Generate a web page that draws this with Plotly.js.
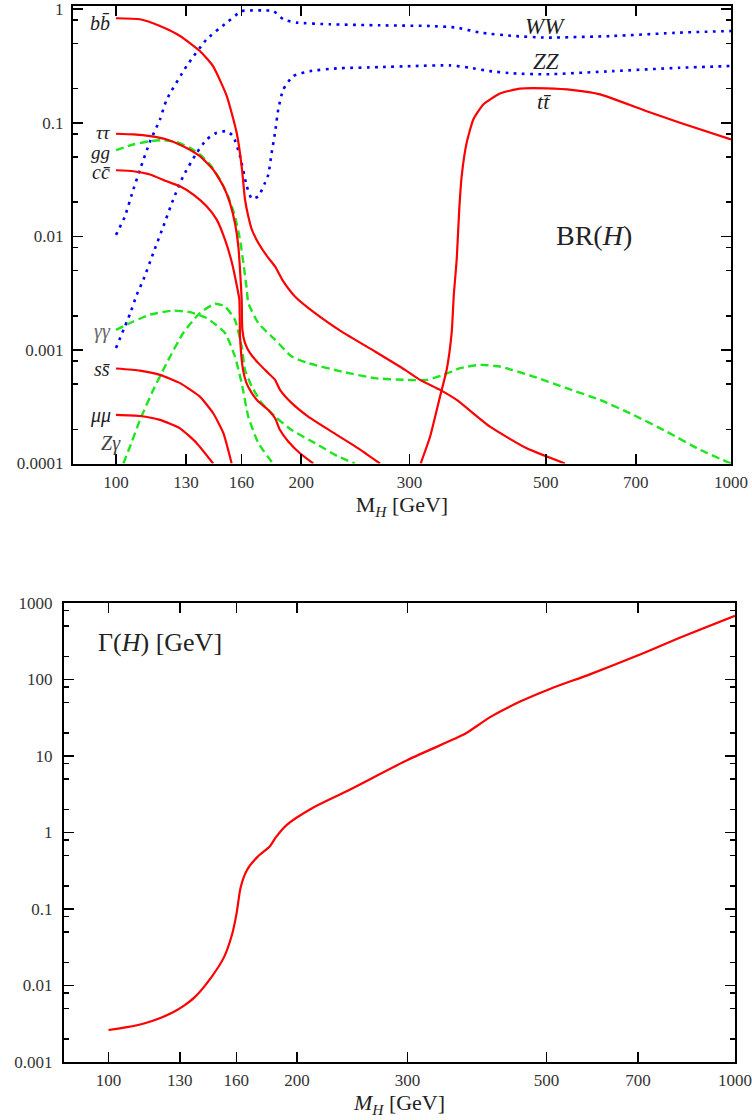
<!DOCTYPE html>
<html>
<head>
<meta charset="utf-8">
<script src="https://cdn.plot.ly/plotly-3.0.1.min.js"></script>
<style>
html,body{margin:0;padding:0;background:#fff;}
#plot{width:752px;height:1120px;}
</style>
</head>
<body>
<div id="plot"></div>
<script>
// ---------- Data: Higgs branching ratios BR(H) vs M_H [GeV] ----------
const M_bb  = [100, 109.4, 117.9, 127.1, 136.9, 143.8, 151.4, 157.1, 160.1, 162.1, 164.1, 166.3, 170.4, 176.9, 181.4, 187.1, 195.4, 210.7, 232.8, 263.7, 295.1, 312.1, 336.4, 358.1, 405.6, 465.5, 537];
const BR_bb = [0.832, 0.815, 0.711, 0.581, 0.428, 0.315, 0.172, 0.082, 0.0412, 0.0211, 0.0150, 0.01145, 0.00875, 0.00645, 0.00544, 0.00401, 0.00296, 0.00211, 0.00145, 0.000969, 0.000668, 0.000545, 0.000445, 0.000363, 0.000211, 0.000136, 0.0001];

const M_tautau  = [100, 106.7, 113.6, 120.9, 128.6, 136.9, 143.9, 149.5, 153.2, 156.1, 158.1, 159.1, 160.1, 160.5, 162.1, 165.2, 170.4, 176.9, 181.4, 184.8, 193.1, 205.4, 224.2, 247.7, 268.7];
const BR_tautau = [0.080, 0.0789, 0.0762, 0.0713, 0.0622, 0.0508, 0.0387, 0.0276, 0.0197, 0.01313, 0.00816, 0.00509, 0.00277, 0.0015, 0.00115, 0.000937, 0.000765, 0.000624, 0.000545, 0.000445, 0.00034, 0.000259, 0.000191, 0.000136, 0.0001];

const M_cc  = [100, 106.7, 113.6, 120.9, 127.1, 133.6, 140.4, 145.8, 150.4, 154.2, 157.1, 158.7, 159.1, 160.9, 163, 166.3, 170.4, 176.9, 181.4, 184.8, 190.6, 199.1, 209.3];
const BR_cc = [0.0382, 0.0374, 0.035, 0.0305, 0.0276, 0.0233, 0.0184, 0.01403, 0.00935, 0.00598, 0.00375, 0.00277, 0.00131, 0.000668, 0.00051, 0.000416, 0.000351, 0.000296, 0.00025, 0.000197, 0.000156, 0.000123, 0.0001];

const M_ss  = [100, 109.4, 117.9, 127.1, 136.9, 143.9, 149.5, 154.2];
const BR_ss = [0.000686, 0.000658, 0.000603, 0.00051, 0.000388, 0.000277, 0.000185, 0.0001];

const M_mumu  = [100, 109.4, 117.9, 127.1, 135.3, 143.9];
const BR_mumu = [0.000268, 0.000262, 0.000242, 0.000204, 0.000151, 0.0001];

const M_tt  = [312.9, 324.1, 336.4, 344.9, 351.4, 354.4, 358.1, 361.5, 364.8, 371.7, 381.1, 395.6, 421.1, 453.9, 501.6, 554.1, 612.4, 729.5, 826.1, 1000];
const BR_tt = [0.0001, 0.000172, 0.000388, 0.000668, 0.00141, 0.00317, 0.00623, 0.0172, 0.0338, 0.0666, 0.107, 0.145, 0.181, 0.1995, 0.2007, 0.194, 0.178, 0.1265, 0.1, 0.0713];

const M_gg  = [100, 106.7, 113.6, 119.4, 125.5, 131.9, 136.9, 142.2, 147.6, 152.2, 156.1, 159.1, 161.1, 163.2, 164.1, 170.4, 181.4, 193.1, 205.4, 232.8, 263.7, 295.1, 320.1, 340.6, 362.5, 390.7, 421.1, 477.1, 540.4, 612.4, 693.6, 785.9, 890.6, 1000];
const BR_gg = [0.0573, 0.0644, 0.0688, 0.0703, 0.0675, 0.0602, 0.0525, 0.0429, 0.0316, 0.0225, 0.0150, 0.00935, 0.00583, 0.00339, 0.00259, 0.00172, 0.00123, 0.000874, 0.000765, 0.000645, 0.000564, 0.000545, 0.000545, 0.000603, 0.000691, 0.000739, 0.000714, 0.000583, 0.00046, 0.000363, 0.000268, 0.000191, 0.000132, 0.0001];

const M_gamgam  = [100, 106.7, 113.6, 123.9, 131.9, 140.4, 150.4, 156.1, 160.1, 164.1, 170.4, 180];
const BR_gamgam = [0.0015, 0.00178, 0.00204, 0.00222, 0.00215, 0.00191, 0.00141, 0.000874, 0.00051, 0.000259, 0.000151, 0.0001];

const M_Zgam  = [102.8, 105.4, 109.4, 115.0, 120.9, 128.6, 136.9, 144.9, 150.4, 156.1, 160.1, 162.1, 166.3, 172.6, 181.4, 193.1, 210.7, 229.9, 244.7];
const BR_Zgam = [0.0001, 0.000141, 0.000242, 0.000445, 0.000765, 0.00141, 0.00211, 0.00255, 0.00241, 0.00184, 0.00107, 0.000668, 0.000476, 0.00034, 0.000259, 0.000197, 0.000151, 0.000115, 0.0001];

const M_WW  = [100, 103.4, 106.7, 109.4, 113.6, 117.9, 120.9, 130.3, 140.4, 151.4, 160.1, 165.2, 173.6, 180.3, 187.1, 196.7, 222.8, 268.7, 324.1, 358.1, 390.7, 442.6, 501.6, 643.7, 826.1, 1000];
const BR_WW = [0.0103, 0.015, 0.0258, 0.0387, 0.0684, 0.107, 0.16, 0.316, 0.543, 0.762, 0.964, 0.975, 0.975, 0.964, 0.814, 0.762, 0.736, 0.721, 0.711, 0.688, 0.622, 0.581, 0.562, 0.581, 0.622, 0.642];

const M_ZZ  = [100, 105.4, 108.1, 110.8, 115.0, 119.4, 123.9, 128.6, 135.3, 140.4, 145.8, 151.4, 155.1, 159.1, 163.2, 166.3, 170.4, 174.7, 176.9, 179.1, 181.4, 183.6, 187.1, 194.2, 206.7, 228.5, 268.7, 304.4, 349.2, 376.3, 405.6, 442.6, 501.6, 643.7, 826.1, 1000];
const BR_ZZ = [0.00104, 0.00208, 0.00306, 0.00415, 0.00714, 0.01225, 0.0211, 0.0338, 0.0544, 0.0713, 0.0817, 0.0843, 0.0762, 0.0508, 0.0276, 0.0214, 0.0225, 0.0296, 0.035, 0.0544, 0.0817, 0.131, 0.197, 0.258, 0.285, 0.301, 0.309, 0.316, 0.32, 0.305, 0.285, 0.272, 0.267, 0.285, 0.305, 0.316];

// ---------- Data: total width Gamma(H) [GeV] ----------
const M_width = [100, 107, 114.3, 121, 127.2, 132, 137.3, 146.0, 152.9, 157.6, 160.1, 162.6, 166.3, 172.9, 181.0, 185.2, 192.4, 211, 242.2, 300.2, 355.3, 372, 407.9, 454, 505.4, 589.3, 697.3, 825.6, 1000];
const Gamma_H = [0.00262, 0.00285, 0.00321, 0.00375, 0.00453, 0.00545, 0.00704, 0.0129, 0.0235, 0.0475, 0.087, 0.194, 0.321, 0.48, 0.662, 0.877, 1.25, 2.06, 3.59, 8.87, 16.5, 19.8, 32.7, 51.5, 74.7, 118.5, 204, 365, 682];

// ---------- Tick labels ----------
const xTickVals = [100, 130, 160, 200, 300, 500, 700, 1000];
const xTickText = ['100', '130', '160', '200', '300', '500', '700', '1000'];
const yTopTickVals = [0.0001, 0.001, 0.01, 0.1, 1];
const yTopTickText = ['0.0001', '0.001', '0.01', '0.1', '1'];
const yBotTickVals = [0.001, 0.01, 0.1, 1, 10, 100, 1000];
const yBotTickText = ['0.001', '0.01', '0.1', '1', '10', '100', '1000'];
const minorMult = [2, 5, 8];

// ---------- Styles ----------
const FONT = 'Liberation Serif';
const RED = '#ff0000', GREEN = '#1ee61e', BLUE = '#0000ff';
const solid = {color: RED, width: 2.2, shape: 'spline', smoothing: 0.5};
const solidW = {color: RED, width: 2.2, shape: 'spline', smoothing: 0.8};
const dashed = {color: GREEN, width: 2.4, dash: '8px,4.5px', shape: 'spline', smoothing: 0.5};
const dotted = {color: BLUE, width: 2.6, dash: '2.8px,5.4px', shape: 'spline', smoothing: 0.5};

function tr(x, y, line, xa, ya) {
  return {x: x, y: y, type: 'scatter', mode: 'lines', line: line,
          xaxis: xa || 'x', yaxis: ya || 'y', hoverinfo: 'skip'};
}

const data = [
  tr(M_WW, BR_WW, dotted),
  tr(M_ZZ, BR_ZZ, dotted),
  tr(M_gg, BR_gg, dashed),
  tr(M_gamgam, BR_gamgam, dashed),
  tr(M_Zgam, BR_Zgam, dashed),
  tr(M_bb, BR_bb, solid),
  tr(M_tautau, BR_tautau, solid),
  tr(M_cc, BR_cc, solid),
  tr(M_ss, BR_ss, solid),
  tr(M_mumu, BR_mumu, solid),
  tr(M_tt, BR_tt, solid),
  tr(M_width, Gamma_H, solidW, 'x2', 'y2')
];

function minorVals(lo, hi) {
  const out = [];
  for (let e = lo; e < hi; e++) minorMult.forEach(m => out.push(m * Math.pow(10, e)));
  return out;
}

const axisCommon = {
  type: 'log', showgrid: false, zeroline: false, showline: true,
  linecolor: '#000', linewidth: 2, mirror: 'ticks',
  ticks: 'inside', ticklen: 10, tickwidth: 1.6, tickcolor: '#000',
  tickfont: {family: FONT, size: 17, color: '#333'}, automargin: false
};

const L = (v) => Math.log10(v);
function lab(text, M, v, xanchor, size, xa, ya, color) {
  return {x: L(M), y: L(v), xref: xa || 'x', yref: ya || 'y', text: text, showarrow: false,
          xanchor: xanchor || 'center', yanchor: 'middle',
          font: {family: FONT, size: size || 20, color: color || '#222'}};
}

const layout = {
  width: 752, height: 1120,
  margin: {l: 0, r: 0, t: 0, b: 0},
  paper_bgcolor: '#fff', plot_bgcolor: '#fff',
  showlegend: false,
  font: {family: FONT, color: '#222'},
  xaxis: Object.assign({}, axisCommon, {
    domain: [0.09707, 0.97207], range: [1.9301, 3], anchor: 'y',
    tickvals: xTickVals, ticktext: xTickText, ticklabelstandoff: 2,
    title: {text: 'M<sub><i>H</i></sub> [GeV]', font: {family: FONT, size: 22, color: '#222'}, standoff: 3}
  }),
  yaxis: Object.assign({}, axisCommon, {
    domain: [0.58616, 0.99464], range: [-4, 0.028], anchor: 'x',
    tickvals: yTopTickVals, ticktext: yTopTickText, ticklabelstandoff: 4,
    minor: {tickvals: minorVals(-4, 0), ticks: 'inside', ticklen: 5, tickwidth: 1.6, tickcolor: '#000', showgrid: false}
  }),
  xaxis2: Object.assign({}, axisCommon, {
    domain: [0.08511, 0.97739], range: [1.929, 3], anchor: 'y2',
    tickvals: xTickVals, ticktext: xTickText, ticklabelstandoff: 2,
    title: {text: '<i>M</i><sub><i>H</i></sub> [GeV]', font: {family: FONT, size: 22, color: '#222'}, standoff: 3}
  }),
  yaxis2: Object.assign({}, axisCommon, {
    domain: [0.05179, 0.46161], range: [-3, 3], anchor: 'x2',
    tickvals: yBotTickVals, ticktext: yBotTickText, ticklabelstandoff: 6,
    minor: {tickvals: minorVals(-3, 3), ticks: 'inside', ticklen: 5, tickwidth: 1.6, tickcolor: '#000', showgrid: false}
  }),
  annotations: [
    lab('<i>b</i><i>b\u0304</i>', 98.6, 0.751, 'right'),
    lab('<i>ττ</i>', 99.0, 0.0821, 'right', 19),
    lab('<i>gg</i>', 98.6, 0.0547, 'right', 19),
    lab('<i>c</i><i>c\u0304</i>', 98.6, 0.0372, 'right'),
    lab('<i>γγ</i>', 99.0, 0.00144, 'right', 20, 'x', 'y', '#666'),
    lab('<i>s</i><i>s\u0304</i>', 98.6, 0.00068, 'right'),
    lab('<i>μμ</i>', 99.0, 0.000262, 'right'),
    lab('<i>Z</i><i>γ</i>', 102.6, 0.000149, 'right', 20, 'x', 'y', '#444'),
    lab('<i>WW</i>', 498, 0.70, 'center', 23),
    lab('<i>ZZ</i>', 500, 0.347, 'center', 23),
    lab('<i>t</i><i>t\u0304</i>', 498, 0.154, 'center', 22),
    lab('BR(<i>H</i>)', 598, 0.0101, 'center', 28),
    lab('Γ(<i>H</i>) [GeV]', 121, 307, 'center', 26, 'x2', 'y2')
  ]
};

Plotly.newPlot('plot', data, layout, {staticPlot: true, displayModeBar: false});
</script>
</body>
</html>
